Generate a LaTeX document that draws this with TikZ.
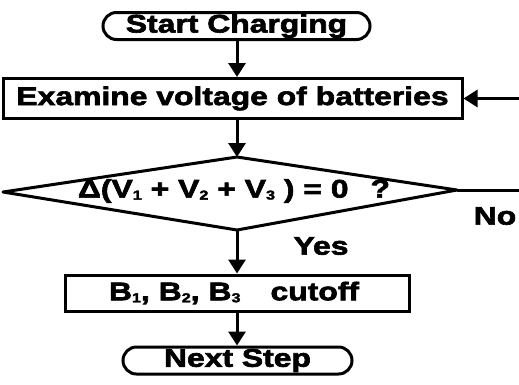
\documentclass[tikz,border=0pt]{standalone}
\usepackage{fontspec}
\newfontfamily\fc[FakeStretch=1.25,FakeBold=2.5]{Liberation Sans Bold}
\usetikzlibrary{arrows.meta}
\newcommand\sbn[1]{\raisebox{-2pt}{\fontsize{13}{13}\selectfont #1}}
\tikzset{
  x=1pt, y=-1pt,
  ln/.style={line width=3pt},
  arr/.style={ln, -{Triangle[width=17pt,length=14pt]}},
  box/.style={draw, ln, inner sep=0pt, font=\fc\fontsize{25.5}{25}\selectfont},
  term/.style={box, rounded corners=13.5pt},
  lbl/.style={inner sep=0pt, font=\fc\fontsize{25.5}{25}\selectfont}
}
\begin{document}
\begin{tikzpicture}
\useasboundingbox (0,0) rectangle (519,384);
\clip (0,0) rectangle (519,384);
\node[term, minimum width=267pt, minimum height=27pt] (start) at (236.5,26) {Start Charging};
\node[box, minimum width=459pt, minimum height=40pt] (exam) at (232.5,98.5) {Examine voltage of batteries};
\coordinate (dtop) at (237,157);
\coordinate (dleft) at (3,192);
\coordinate (dright) at (457,190);
\coordinate (dbot) at (237,230);
\draw[ln, line join=round] (dtop) -- (dright) -- (dbot) -- (dleft) -- cycle;
\node[lbl] (cond) at (234,191) {Δ(V\sbn{1} + V\sbn{2} + V\sbn{3} ) = 0\ \ \,?};
\node[box, minimum width=344pt, minimum height=36pt] (cut) at (237,293) {\hspace*{-6pt}B\sbn{1}, B\sbn{2}, B\sbn{3}\hspace{30pt}cutoff};
\node[term, minimum width=229pt, minimum height=27pt] (next) at (237.5,360.5) {Next Step};
\coordinate (fb) at (540,190);
\node[lbl] (no) at (495,216) {No};
\node[lbl] (yes) at (321,246) {Yes};
\draw[arr] (start.south -| dtop) -- (exam.north -| dtop);
\draw[arr] (exam.south -| dtop) -- (dtop);
\draw[arr] (dbot) -- (cut.north -| dbot);
\draw[arr] (cut.south -| dbot) -- (next.north -| dbot);
\draw[arr] (dright) -- (fb) |- (exam.east);
\end{tikzpicture}
\end{document}
